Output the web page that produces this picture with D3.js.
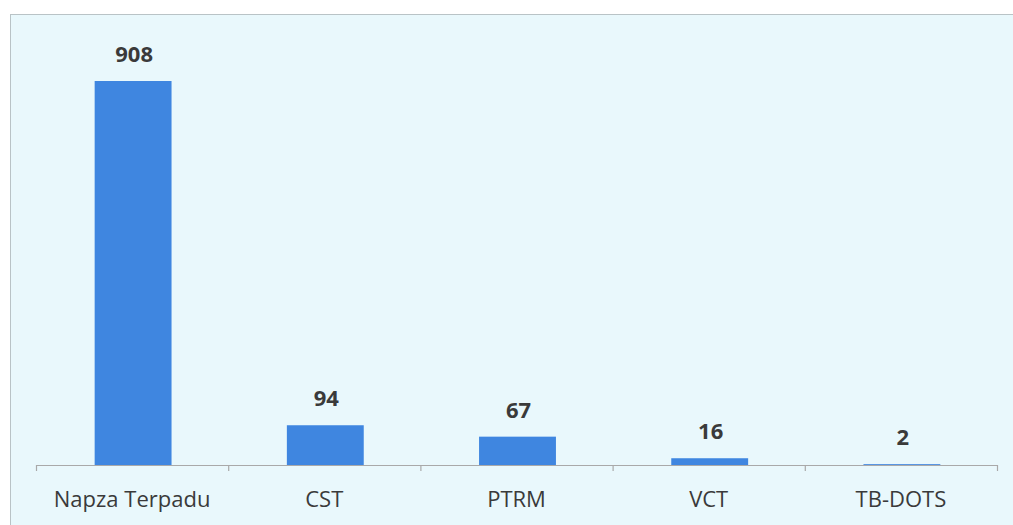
<!DOCTYPE html>
<html>
<head>
<meta charset="utf-8">
<script src="https://cdn.jsdelivr.net/npm/d3@7"></script>
<style>
  body { margin: 0; background: #ffffff; }
  svg { display: block; }
</style>
</head>
<body>
<svg id="chart" width="1013" height="525"></svg>
<script>
const categories = ['Napza Terpadu', 'CST', 'PTRM', 'VCT', 'TB-DOTS'];
const values = [908, 94, 67, 16, 2];

const svg = d3.select('#chart');
const width = 1013, height = 525;
const margin = { left: 36, right: 16, top: 81, bottom: 60 };
const font = '"Open Sans", Lato, sans-serif';

// panel background
svg.append('rect')
    .attr('x', 10.5)
    .attr('y', 14.5)
    .attr('width', width)
    .attr('height', height)
    .attr('fill', '#e9f8fc')
    .attr('stroke', '#b9c3c6')
    .attr('stroke-width', 1);

const x = d3.scaleBand()
    .domain(categories)
    .range([margin.left, width - margin.right])
    .paddingInner(0.6)
    .paddingOuter(0.3);

const y = d3.scaleLinear()
    .domain([0, 908])
    .range([height - margin.bottom, margin.top]);

// bars
svg.selectAll('rect.bar')
    .data(values)
    .enter()
    .append('rect')
    .attr('class', 'bar')
    .attr('x', (d, i) => x(categories[i]) + 1)
    .attr('y', d => y(d))
    .attr('width', x.bandwidth())
    .attr('height', d => y(0) - y(d))
    .attr('fill', '#3f86e0');

// axis line + ticks at band edges
const axisY = y(0);
const step = x.step();
const edges = d3.range(categories.length + 1).map(i => margin.left + i * step);
svg.append('line')
    .attr('x1', edges[0])
    .attr('x2', edges[edges.length - 1])
    .attr('y1', axisY + 0.5)
    .attr('y2', axisY + 0.5)
    .attr('stroke', '#a9a9a9')
    .attr('stroke-width', 1.2);
svg.selectAll('line.tick')
    .data(edges)
    .enter()
    .append('line')
    .attr('class', 'tick')
    .attr('x1', d => d + 0.5)
    .attr('x2', d => d + 0.5)
    .attr('y1', axisY)
    .attr('y2', axisY + 6)
    .attr('stroke', '#a9a9a9')
    .attr('stroke-width', 1.2);

// category labels
svg.selectAll('text.cat')
    .data(categories)
    .enter()
    .append('text')
    .attr('class', 'cat')
    .attr('x', d => x(d) + x.bandwidth() / 2)
    .attr('y', 507)
    .attr('text-anchor', 'middle')
    .attr('font-family', font)
    .attr('font-size', 22)
    .attr('fill', '#3a3a3a')
    .text(d => d);

// value labels
svg.selectAll('text.val')
    .data(values)
    .enter()
    .append('text')
    .attr('class', 'val')
    .attr('x', (d, i) => x(categories[i]) + x.bandwidth() / 2 + 2)
    .attr('y', d => y(d) - 19)
    .attr('text-anchor', 'middle')
    .attr('font-family', font)
    .attr('font-weight', 'bold')
    .attr('font-size', 22)
    .attr('fill', '#3a3a3a')
    .text(d => d);
</script>
</body>
</html>
